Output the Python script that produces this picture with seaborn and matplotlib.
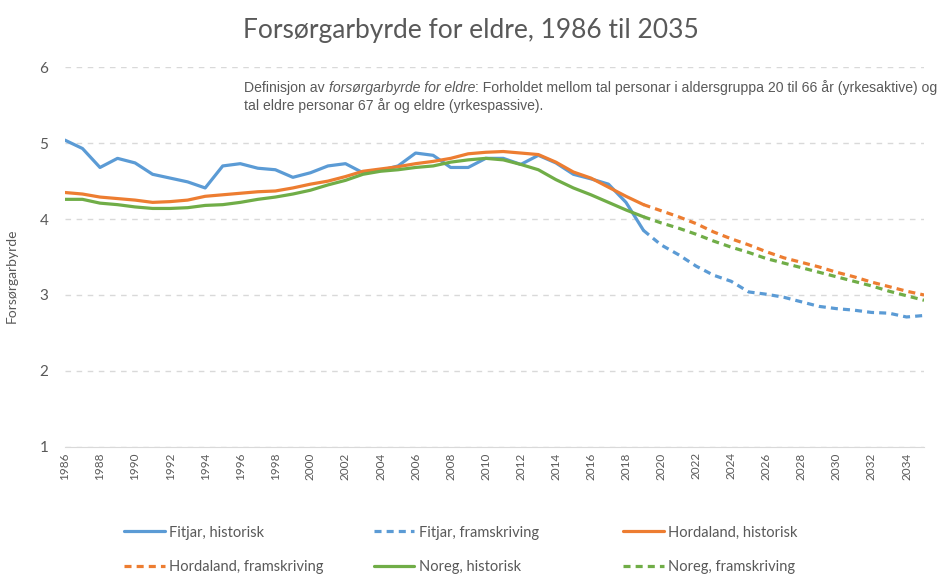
import matplotlib
matplotlib.use("Agg")
import matplotlib.pyplot as plt
from matplotlib.lines import Line2D
import seaborn as sns
import pandas as pd

# data
hist_years = list(range(1986, 2020))
proj_years = list(range(2019, 2036))

fitjar_hist = [5.04, 4.93, 4.68, 4.80, 4.74, 4.59, 4.54, 4.49, 4.41, 4.70,
               4.73, 4.67, 4.65, 4.55, 4.61, 4.70, 4.73, 4.61, 4.64, 4.70,
               4.87, 4.84, 4.68, 4.68, 4.80, 4.80, 4.72, 4.84, 4.74, 4.59,
               4.53, 4.46, 4.22, 3.85]
hordaland_hist = [4.35, 4.33, 4.29, 4.27, 4.25, 4.22, 4.23, 4.25, 4.30, 4.32,
                  4.34, 4.36, 4.37, 4.41, 4.46, 4.50, 4.56, 4.63, 4.66, 4.69,
                  4.73, 4.76, 4.80, 4.86, 4.88, 4.89, 4.87, 4.85, 4.75, 4.62,
                  4.54, 4.42, 4.30, 4.19]
noreg_hist = [4.26, 4.26, 4.21, 4.19, 4.16, 4.14, 4.14, 4.15, 4.18, 4.19,
              4.22, 4.26, 4.29, 4.33, 4.38, 4.45, 4.51, 4.59, 4.63, 4.65,
              4.68, 4.70, 4.75, 4.78, 4.80, 4.78, 4.72, 4.65, 4.52, 4.41,
              4.32, 4.22, 4.12, 4.03]

fitjar_proj = [3.85, 3.66, 3.53, 3.38, 3.26, 3.18, 3.04, 3.01, 2.97, 2.91,
               2.85, 2.82, 2.80, 2.77, 2.76, 2.71, 2.73]
hordaland_proj = [4.19, 4.11, 4.03, 3.94, 3.83, 3.74, 3.66, 3.57, 3.49, 3.43,
                  3.37, 3.30, 3.24, 3.17, 3.11, 3.05, 3.00]
noreg_proj = [4.03, 3.95, 3.88, 3.80, 3.71, 3.63, 3.56, 3.48, 3.42, 3.36,
              3.30, 3.24, 3.18, 3.12, 3.05, 2.99, 2.93]

regions = ["Fitjar", "Hordaland", "Noreg"]
colors = {"Fitjar": "#5B9BD5", "Hordaland": "#ED7D31", "Noreg": "#70AD47"}

rows = []
for reg, h, p in zip(regions, [fitjar_hist, hordaland_hist, noreg_hist],
                     [fitjar_proj, hordaland_proj, noreg_proj]):
    for y, v in zip(hist_years, h):
        rows.append({"year": y, "value": v, "region": reg, "kind": "historisk"})
    for y, v in zip(proj_years, p):
        rows.append({"year": y, "value": v, "region": reg, "kind": "framskriving"})
df = pd.DataFrame(rows)

sns.set_style("white")
plt.rcParams["font.family"] = ["Lato", "DejaVu Sans"]
grey = "#595959"
dash = (0, (2.2, 1.6))

fig = plt.figure(figsize=(9.41, 5.75), dpi=100)
ax = fig.add_axes([0.069, 0.223, 0.913, 0.66])

sns.lineplot(data=df, x="year", y="value", hue="region", style="kind",
             palette=colors, dashes={"historisk": "", "framskriving": (2.2, 1.6)},
             linewidth=2.3, legend=False, ax=ax)

ax.set_xlim(1986, 2035)
ax.set_ylim(1, 6)
ax.set_yticks([1, 2, 3, 4, 5, 6])
ax.set_xticks(list(range(1986, 2035, 2)))
ax.set_xticklabels([str(y) for y in range(1986, 2035, 2)], rotation=90,
                   fontsize=8.5, color=grey)
ax.tick_params(axis="y", labelsize=11, labelcolor=grey, length=0, pad=12)
ax.tick_params(axis="x", length=0, pad=4)
ax.yaxis.grid(True, color="#D9D9D9", linestyle=(0, (4, 4)), linewidth=1)
for s in ["left", "right", "top"]:
    ax.spines[s].set_visible(False)
ax.spines["bottom"].set_color("#D9D9D9")
ax.set_xlabel("")
ax.set_ylabel("Forsørgarbyrde", fontsize=10, color=grey)
ax.yaxis.set_label_coords(-0.055, 0.45)

fig.text(0.5, 0.947, "Forsørgarbyrde for eldre, 1986 til 2035",
         ha="center", va="center", fontsize=19, color=grey)

# definition note, with the term in italics
note_kw = dict(fontsize=10.1, color=grey, family="Liberation Sans")
t1 = ax.text(0.209, 0.945, "Definisjon av ", transform=ax.transAxes,
             va="center", **note_kw)
t2 = ax.annotate("forsørgarbyrde for eldre", xycoords=t1, xy=(1, 0), va="bottom",
                 style="italic", **note_kw)
ax.annotate(": Forholdet mellom tal personar i aldersgruppa 20 til 66 år (yrkesaktive) og",
            xycoords=t2, xy=(1, 0), va="bottom", **note_kw)
ax.text(0.209, 0.9, "tal eldre personar 67 år og eldre (yrkespassive).",
        transform=ax.transAxes, va="center", **note_kw)

# legend: one block per column, placed like the reference
entries = [("Fitjar, historisk", "Fitjar", "-"),
           ("Hordaland, framskriving", "Hordaland", dash),
           ("Fitjar, framskriving", "Fitjar", dash),
           ("Noreg, historisk", "Noreg", "-"),
           ("Hordaland, historisk", "Hordaland", "-"),
           ("Noreg, framskriving", "Noreg", dash)]
col_x = [0.132, 0.397, 0.662]
for c in range(3):
    pair = entries[2 * c:2 * c + 2]
    hs = [Line2D([], [], color=colors[r], linewidth=2.3, linestyle=ls)
          for _, r, ls in pair]
    fig.legend(hs, [lab for lab, _, _ in pair], loc="upper left",
               bbox_to_anchor=(col_x[c], 0.086), frameon=False,
               fontsize=10.5, labelcolor=grey, handlelength=2.8,
               handletextpad=0.3, labelspacing=1.4,
               borderaxespad=0, borderpad=0)

fig.savefig("out.png", dpi=100)
